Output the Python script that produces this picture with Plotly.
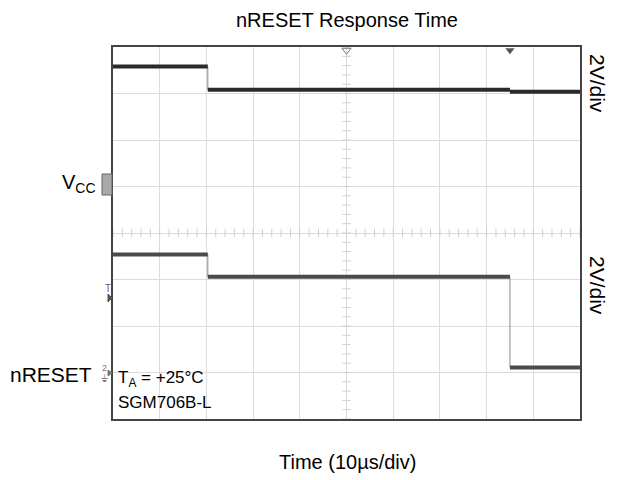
import plotly.graph_objects as go

# ---- data (time in µs, voltage in screen divisions) ----
vcc_breaks_us = [0, 20.3, 85.0, 100]
vcc_levels_div = [3.58, 3.08, 3.04]
nreset_breaks_us = [0, 20.3, 85.0, 100]
nreset_levels_div = [-0.46, -0.94, -2.89]

x_ticks = list(range(0, 101, 10))
y_ticks = list(range(-4, 5, 1))

OFF = 8  # default page body margin
W, H = 633, 480
L, R, T, B = 113, 53, 47, 61
PW, PH = W - L - R, H - T - B


def px(x):
    return (x - L) / PW


def py(y):
    return (H - B - y) / PH


def segs(breaks, levels):
    xs, ys = [], []
    for i, lv in enumerate(levels):
        xs += [breaks[i], breaks[i + 1], None]
        ys += [lv, lv, None]
    ex, ey = [], []
    for i in range(1, len(levels)):
        ex += [breaks[i], breaks[i], None]
        ey += [levels[i - 1], levels[i], None]
    return xs, ys, ex, ey


fig = go.Figure()

# minor ticks on centre cross-hair
mx = [i * 2 for i in range(51)]
my = [round(-4 + i * 0.2, 2) for i in range(41)]
fig.add_trace(go.Scatter(x=mx, y=[0] * len(mx), mode="markers",
                         marker=dict(symbol="line-ns", size=6, color="#cfcfcf",
                                     line=dict(width=1, color="#cfcfcf")),
                         hoverinfo="skip", showlegend=False))
fig.add_trace(go.Scatter(x=[50] * len(my), y=my, mode="markers",
                         marker=dict(symbol="line-ew", size=6, color="#cfcfcf",
                                     line=dict(width=1, color="#cfcfcf")),
                         hoverinfo="skip", showlegend=False))

for breaks, levels, col in [(vcc_breaks_us, vcc_levels_div, "#2a2a2a"),
                            (nreset_breaks_us, nreset_levels_div, "#4a4a4a")]:
    xs, ys, ex, ey = segs(breaks, levels)
    fig.add_trace(go.Scatter(x=ex, y=ey, mode="lines",
                             line=dict(color="#8a8a8a", width=1),
                             hoverinfo="skip", showlegend=False))
    fig.add_trace(go.Scatter(x=xs, y=ys, mode="lines",
                             line=dict(color=col, width=4),
                             hoverinfo="skip", showlegend=False))

# top trigger markers
fig.add_trace(go.Scatter(x=[50], y=[3.93], mode="markers",
                         marker=dict(symbol="triangle-down-open", size=8, color="#777"),
                         hoverinfo="skip", showlegend=False, cliponaxis=False))
fig.add_trace(go.Scatter(x=[85.0], y=[3.93], mode="markers",
                         marker=dict(symbol="triangle-down", size=8, color="#555"),
                         hoverinfo="skip", showlegend=False, cliponaxis=False))

font = "Liberation Sans, Arial, sans-serif"
ann = []


def A(text, x, y, size, xanchor="center", yanchor="middle", angle=0, color="#000"):
    ann.append(dict(text=text, x=px(x), y=py(y), xref="paper", yref="paper",
                    showarrow=False, xanchor=xanchor, yanchor=yanchor,
                    textangle=angle, font=dict(family=font, size=size, color=color)))


A("nRESET Response Time", 347, 20, 20)
A("Time (10µs/div)", 347, 462, 20)
A("2V/div", 598, 83, 21, angle=90)
A("2V/div", 598, 285, 21, angle=90)
A("V<sub>CC</sub>", 98, 183, 20, xanchor="right")
A("nRESET", 94, 374, 21, xanchor="right")
A("T<sub>A</sub> = +25°C", 116, 379, 17, xanchor="left")
A("SGM706B-L", 116, 402, 17, xanchor="left")
A("T", 108, 288, 10, color="#666")
A("2", 104, 368, 9, color="#777")
A("⏚", 104, 378, 10, color="#777")

shapes = [
    dict(type="rect", xref="paper", yref="paper", x0=px(102), x1=px(112),
         y0=py(195), y1=py(174), fillcolor="#a8a8a8", line=dict(color="#666", width=1)),
    dict(type="path", xref="paper", yref="paper",
         path=f"M {px(108)} {py(294)} L {px(112)} {py(298)} L {px(108)} {py(302)} Z",
         fillcolor="#555", line=dict(color="#555", width=1)),
    dict(type="path", xref="paper", yref="paper",
         path=f"M {px(108)} {py(370)} L {px(112)} {py(373)} L {px(108)} {py(376)} Z",
         fillcolor="#777", line=dict(color="#777", width=1)),
]

fig.update_layout(
    width=W - OFF, height=H - OFF,
    margin=dict(l=L - OFF, r=R, t=T - OFF, b=B, pad=0),
    paper_bgcolor="white", plot_bgcolor="white",
    annotations=ann, shapes=shapes,
    xaxis=dict(range=[0, 100], tickvals=x_ticks, showticklabels=False, ticks="",
               showgrid=True, gridcolor="#dcdcdc", gridwidth=1, zeroline=False,
               showline=True, linecolor="#444", linewidth=1.5, mirror=True),
    yaxis=dict(range=[-4, 4], tickvals=y_ticks, showticklabels=False, ticks="",
               showgrid=True, gridcolor="#dcdcdc", gridwidth=1, zeroline=False,
               showline=True, linecolor="#444", linewidth=1.5, mirror=True),
)

fig.write_html("out.html")
